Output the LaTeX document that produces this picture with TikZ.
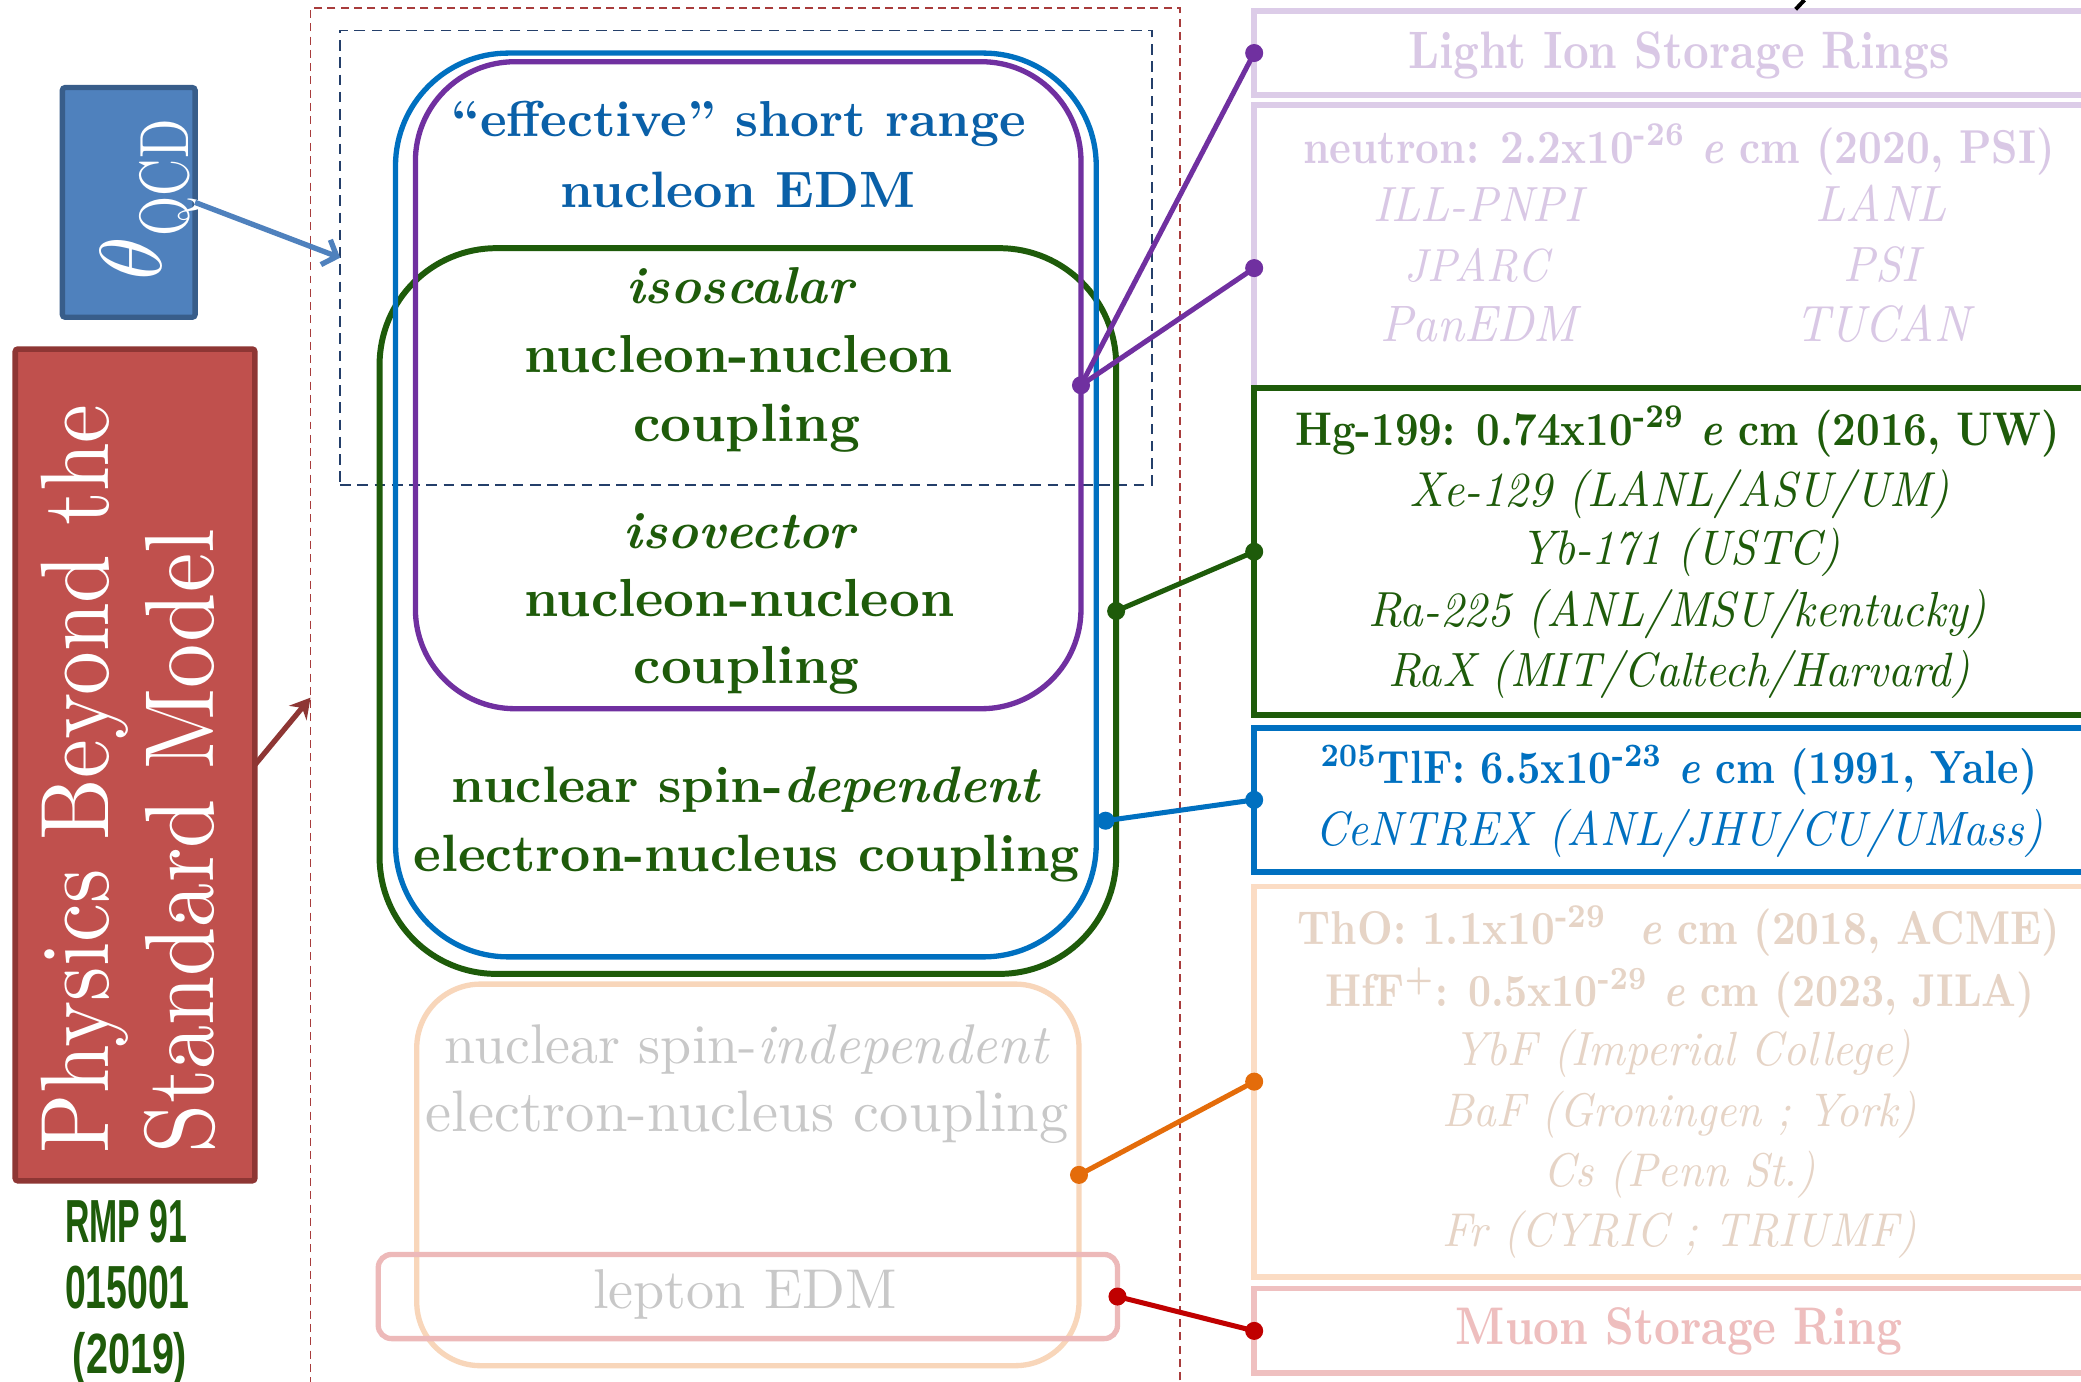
\documentclass[tikz,border=0pt]{standalone}
\usepackage{fontspec}
\usepackage{graphicx}
\usetikzlibrary{arrows.meta}
\newfontfamily\rmpfont{Liberation Sans}
\definecolor{thetaFill}{HTML}{4F81BD}
\definecolor{thetaDraw}{HTML}{385D8A}
\definecolor{pbsmFill}{HTML}{C0504D}
\definecolor{pbsmDraw}{HTML}{8E3634}
\definecolor{dashRedC}{HTML}{A83C3C}
\definecolor{dashNavyC}{HTML}{243F6A}
\definecolor{blueC}{HTML}{0070C0}
\definecolor{blueT}{HTML}{0A60A8}
\definecolor{purpleC}{HTML}{7030A0}
\definecolor{greenC}{HTML}{1E5B0A}
\definecolor{lavC}{HTML}{DCCCE8}
\definecolor{lavT}{HTML}{D9C8E5}
\definecolor{peachC}{HTML}{FBDCC4}
\definecolor{peachT}{HTML}{E6D4C6}
\definecolor{pinkC}{HTML}{EFC0C0}
\definecolor{pinkT}{HTML}{EEBEBE}
\definecolor{orangeL}{HTML}{F8D6BA}
\definecolor{pinkL}{HTML}{EDB9B9}
\definecolor{grayT}{HTML}{C8C8C8}
\definecolor{orangeC}{HTML}{E46C0A}
\definecolor{redC}{HTML}{C00000}
\newcommand\fw[2]{\resizebox{#1pt}{!}{#2}}
\newcommand\fwc[3]{\resizebox{#2pt}{!}{\scalebox{#1}[1]{#3}}}
\tikzset{
  box/.style={draw, inner sep=0pt, outer sep=0pt},
  rbox/.style={box, fill=white, line width=4.2pt, minimum width=640pt},
  mbox/.style={box, line width=4pt},
  txt/.style={inner sep=0pt, outer sep=0pt, anchor=base},
  conn/.style={line width=3.8pt},
}
\begin{document}
\begin{tikzpicture}[x=1pt,y=-1pt]
\useasboundingbox (0,0) rectangle (1568,1041);
\clip (0,0) rectangle (1568,1041);
\fill[white] (0,0) rectangle (1568,1041);

% dashed frames
\node[box, draw=dashRedC, line width=1.4pt, dash pattern=on 6pt off 4pt, minimum width=655pt, minimum height=1038.7pt] (dashRed) at (561.5,525.65) {};
\node[box, draw=dashNavyC, line width=1.4pt, dash pattern=on 8pt off 5pt, minimum width=611.7pt, minimum height=342.4pt] (dashNavy) at (562.15,194.2) {};

% left boxes
\node[box, fill=thetaFill, draw=thetaDraw, line width=4pt, rounded corners=2pt, minimum width=100pt, minimum height=173pt] (thetaBox) at (97,152.5) {};
\node[txt, rotate=90, anchor=base west, text=white] (thetaTxt) at (122,211) {\resizebox{!}{46pt}{$\theta$}\raisebox{-20pt}{\resizebox{88pt}{37pt}{QCD}}};
\node[box, fill=pbsmFill, draw=pbsmDraw, line width=4.2pt, rounded corners=2pt, minimum width=180.5pt, minimum height=626.7pt] (pbsm) at (101.75,576.35) {};
\node[txt, rotate=90, anchor=base west, text=white] (pbsmT1) at (81.6,868.8) {\fwc{0.9}{564}{Physics Beyond the}};
\node[txt, rotate=90, anchor=base west, text=white] (pbsmT2) at (160.7,868.8) {\fwc{0.9}{470}{Standard Model}};

\draw[thetaFill, line width=4pt, -{Straight Barb[length=9pt,width=20pt]}] (thetaBox.east) -- (dashNavy.west);
\draw[pbsmDraw, line width=4pt, -{Stealth[length=15pt,width=17pt,inset=5pt]}] (pbsm.east) -- (dashRed.west);

\node[txt, text=greenC] (rmp1) at (95,936) {\rmpfont\bfseries\resizebox{92pt}{32pt}{RMP 91}};
\node[txt, text=greenC] (rmp2) at (96,985.6) {\rmpfont\bfseries\resizebox{94pt}{32pt}{015001}};
\node[txt, text=greenC] (rmp3) at (98,1035) {\rmpfont\bfseries\resizebox{86pt}{31pt}{(2019)}};

% middle rounded boxes
\node[mbox, draw=orangeL, rounded corners=48pt, minimum width=499pt, minimum height=287.5pt] (orangeR) at (563.5,885.25) {};
\node[mbox, draw=pinkL, rounded corners=10pt, minimum width=557pt, minimum height=63.4pt] (pinkR) at (563.5,976.9) {};
\node[mbox, draw=greenC, line width=4.5pt, rounded corners=88pt, minimum width=555pt, minimum height=546.8pt] (greenR) at (563.5,460.4) {};
\node[mbox, draw=blueC, rounded corners=85pt, minimum width=528pt, minimum height=681pt] (blueR) at (562,380.5) {};
\node[mbox, draw=purpleC, rounded corners=75pt, minimum width=501.5pt, minimum height=487.5pt] (purpleR) at (563.75,290.25) {};

% right boxes
\node[rbox, draw=lavC, minimum height=63.3pt] (lightBox) at (1265,39.95) {};
\node[rbox, draw=lavC, minimum height=246pt] (neutronBox) at (1265,202) {};
\node[rbox, draw=greenC, line width=4.5pt, minimum height=246.2pt] (hgBox) at (1265,415.7) {};
\node[rbox, draw=blueC, line width=4.5pt, minimum height=108.2pt] (tlfBox) at (1265,602.7) {};
\node[rbox, draw=peachC, minimum height=294pt] (thoBox) at (1265,815) {};
\node[rbox, draw=pinkC, minimum height=63.6pt] (muonBox) at (1265,1002.8) {};

% connectors
\coordinate (bDot) at (833,618.4);
\draw[conn, purpleC] (purpleR.east) -- (lightBox.west);
\draw[conn, purpleC] (purpleR.east) -- (neutronBox.west);
\fill[purpleC] (purpleR.east) circle (6.8pt) (lightBox.west) circle (6.8pt) (neutronBox.west) circle (6.8pt);
\draw[conn, greenC] (greenR.east) -- (hgBox.west);
\fill[greenC] (greenR.east) circle (6.8pt) (hgBox.west) circle (6.8pt);
\draw[conn, blueC] (bDot) -- (tlfBox.west);
\fill[blueC] (bDot) circle (6.8pt) (tlfBox.west) circle (6.8pt);
\draw[conn, orangeC] (orangeR.east) -- (thoBox.west);
\fill[orangeC] (orangeR.east) circle (6.8pt) (thoBox.west) circle (6.8pt);
\draw[conn, redC] (pinkR.east) -- (muonBox.west);
\fill[redC] (pinkR.east) circle (6.8pt) (muonBox.west) circle (6.8pt);

% middle texts
\node[txt, text=blueT] (m1) at (556.5,103) {\fw{433}{\bfseries “effective” short range}};
\node[txt, text=blueT] (m2) at (556,156) {\fw{267}{\bfseries nucleon EDM}};
\node[txt, text=greenC] (m3) at (557.5,229) {\fw{171}{\bfseries\itshape isoscalar}};
\node[txt, text=greenC] (m4) at (556.5,281) {\fw{323}{\bfseries nucleon-nucleon}};
\node[txt, text=greenC] (m5) at (562.5,333) {\fw{171}{\bfseries coupling}};
\node[txt, text=greenC] (m6) at (557,413) {\fw{174}{\bfseries\itshape isovector}};
\node[txt, text=greenC] (m7) at (557,464.7) {\fw{324}{\bfseries nucleon-nucleon}};
\node[txt, text=greenC] (m8) at (562.6,514.8) {\fw{170}{\bfseries coupling}};
\node[txt, text=greenC] (m9) at (562.5,605) {\fw{444}{\bfseries nuclear spin-\textit{dependent}}};
\node[txt, text=greenC] (m10) at (562.7,656.8) {\fw{502}{\bfseries electron-nucleus coupling}};
\node[txt, text=grayT] (m11) at (563,801) {\fw{456}{nuclear spin-\textit{independent}}};
\node[txt, text=grayT] (m12) at (563,852.7) {\fw{484}{electron-nucleus coupling}};
\node[txt, text=grayT] (m13) at (561.5,985.6) {\fw{229}{lepton EDM}};

% right texts
\node[txt, text=lavT] (r1) at (1265,51.5) {\fwc{0.85}{408}{\bfseries Light Ion Storage Rings}};
\node[txt, text=lavT] (r2) at (1265,123) {\fwc{0.87}{566}{\bfseries neutron: 2.2x10\textsuperscript{-26} \textit{e} cm (2020, PSI)}};
\node[txt, text=lavT] (r3) at (1113.5,167) {\fwc{0.94}{157}{\itshape ILL-PNPI}};
\node[txt, text=lavT] (r4) at (1417.5,167) {\fwc{0.94}{99}{\itshape LANL}};
\node[txt, text=lavT] (r5) at (1112.6,212) {\fwc{0.94}{108}{\itshape JPARC}};
\node[txt, text=lavT] (r6) at (1417.5,212) {\fwc{0.94}{57}{\itshape PSI}};
\node[txt, text=lavT] (r7) at (1114,257.6) {\fwc{0.94}{148}{\itshape PanEDM}};
\node[txt, text=lavT] (r8) at (1418.5,257.6) {\fwc{0.94}{131}{\itshape TUCAN}};

\node[txt, text=greenC] (h1) at (1264,335.3) {\fwc{0.87}{576}{\bfseries Hg-199: 0.74x10\textsuperscript{-29} \textit{e} cm (2016, UW)}};
\node[txt, text=greenC] (h2) at (1265.5,381.8) {\fwc{0.94}{407}{\itshape Xe-129 (LANL/ASU/UM)}};
\node[txt, text=greenC] (h3) at (1266,425.7) {\fwc{0.94}{241}{\itshape Yb-171 (USTC)}};
\node[txt, text=greenC] (h4) at (1264,471.7) {\fwc{0.94}{466}{\itshape Ra-225 (ANL/MSU/kentucky)}};
\node[txt, text=greenC] (h5) at (1265,517.4) {\fwc{0.94}{438}{\itshape RaX (MIT/Caltech/Harvard)}};

\node[txt, text=blueC] (t1) at (1265,590) {\fwc{0.87}{540}{\bfseries \textsuperscript{205}TlF: 6.5x10\textsuperscript{-23} \textit{e} cm (1991, Yale)}};
\node[txt, text=blueC] (t2) at (1265,636.7) {\fwc{0.94}{548}{\itshape CeNTREX (ANL/JHU/CU/UMass)}};

\node[txt, text=peachT] (o1) at (1265,712) {\fwc{0.87}{574}{\bfseries ThO: 1.1x10\textsuperscript{-29}\ \ \textit{e} cm (2018, ACME)}};
\node[txt, text=peachT] (o2) at (1266,758) {\fwc{0.87}{534}{\bfseries HfF\textsuperscript{+}: 0.5x10\textsuperscript{-29} \textit{e} cm (2023, JILA)}};
\node[txt, text=peachT] (o3) at (1267.5,802.5) {\fwc{0.94}{345}{\itshape YbF (Imperial College)}};
\node[txt, text=peachT] (o4) at (1265.5,849) {\fwc{0.94}{357}{\itshape BaF (Groningen ; York)}};
\node[txt, text=peachT] (o5) at (1265.5,894) {\fwc{0.94}{205}{\itshape Cs (Penn St.)}};
\node[txt, text=peachT] (o6) at (1265.5,939.4) {\fwc{0.94}{357}{\itshape Fr (CYRIC ; TRIUMF)}};

\node[txt, text=pinkT] (mu1) at (1265,1013.4) {\fwc{0.85}{336}{\bfseries Muon Storage Ring}};

% fragment at top edge
\draw[black, line width=3pt] (1353,7) -- (1359.6,0);
\end{tikzpicture}
\end{document}
